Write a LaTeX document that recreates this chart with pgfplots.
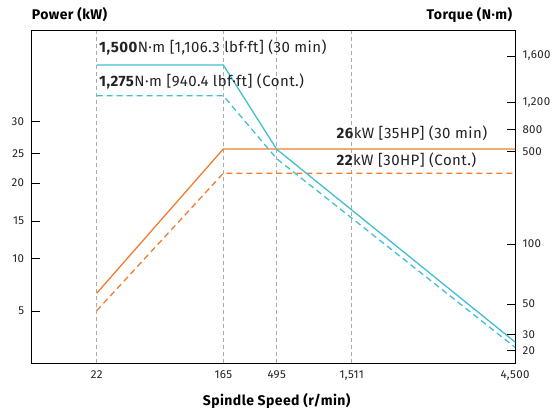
\documentclass[border=0pt]{standalone}
\usepackage{pgfplots}
\pgfplotsset{compat=1.18}
\usepackage{fontspec}
\setmainfont{Fira Sans}[LetterSpace=3]
\definecolor{cy}{RGB}{66,190,210}
\definecolor{orng}{RGB}{240,126,46}
\definecolor{txt}{RGB}{35,35,35}
\definecolor{gridc}{RGB}{170,170,170}
\begin{document}
\begin{tikzpicture}
\useasboundingbox (-31.7pt,-49pt) rectangle (522.3pt,363pt);
% x positions: 22 -> 96.7, 165 -> 223.3, 495 -> 276.7, 1511 -> 351.7, 4500 -> 515
% y positions (left, kW): 5 -> 52, 10 -> 104.3, 15 -> 142, 20 -> 180, 25 -> 209.7, 30 -> 241.7
% y positions (right, N m): 20 -> 12.3, 30 -> 28.3, 50 -> 59, 100 -> 119, 500 -> 211.3, 800 -> 233.7, 1200 -> 260.3, 1600 -> 307
\begin{axis}[
  scale only axis, width=483.3pt, height=333pt,
  xmin=31.7, xmax=515, ymin=0, ymax=333,
  axis line style={black, line width=0.8pt},
  xtick={96.7,223.3,276.7,351.7,515},
  xticklabels={22,165,495,{1,511},{4,500}},
  xtick pos=bottom,
  major x tick style={draw=none},
  xmajorgrids, grid style={gridc, dashed, dash pattern=on 4pt off 3pt, line width=0.8pt},
  ytick={52,104.3,142,180,209.7,241.7},
  yticklabels={5,10,15,20,25,30},
  ytick pos=left,
  major tick length=8pt,
  tick style={black, line width=0.8pt},
  tick label style={font=\fontsize{11.5}{14}\selectfont, text=txt},
  xticklabel style={yshift=-4pt},
  yticklabel style={xshift=-4pt},
  /pgf/number format/assume math mode=true,
  clip=false,
]
% Power 30 min
\addplot[orng, line width=1.3pt] coordinates {(96.7,69.7) (223.3,214) (515,214)};
% Power continuous
\addplot[orng, line width=1.3pt, dash pattern=on 6pt off 4pt] coordinates {(96.7,52.3) (223.3,189.7) (515,189.7)};
% Torque 30 min
\addplot[cy, line width=1.3pt] coordinates {(96.7,298) (223.3,298) (276.7,213.7) (515,21)};
% Torque continuous
\addplot[cy, line width=1.3pt, dash pattern=on 6pt off 4pt] coordinates {(96.7,267.3) (223.3,267.3) (276.7,204.3) (515,15.7)};

\node[anchor=west, inner sep=0pt, text=txt, font=\fontsize{15}{17}\selectfont] at (axis cs:99,316) {\textbf{1,500}N·m [1,106.3 lbf·ft] (30 min)};
\node[anchor=west, inner sep=0pt, text=txt, font=\fontsize{15}{17}\selectfont] at (axis cs:99,282) {\textbf{1,275}N·m [940.4 lbf·ft] (Cont.)};
\node[anchor=west, inner sep=0pt, text=txt, font=\fontsize{15}{17}\selectfont] at (axis cs:336.5,230) {\textbf{26}kW [35HP] (30 min)};
\node[anchor=west, inner sep=0pt, text=txt, font=\fontsize{15}{17}\selectfont] at (axis cs:336.5,203) {\textbf{22}kW [30HP] (Cont.)};

\node[anchor=west, inner sep=0pt, text=black, font=\bfseries\fontsize{14}{16}\selectfont] at (axis cs:31.7,348) {Power (kW)};
\node[anchor=east, inner sep=0pt, text=black, font=\bfseries\fontsize{14}{16}\selectfont] at (axis cs:512.3,348) {Torque (N·m)};
\node[anchor=center, inner sep=0pt, text=black, font=\bfseries\fontsize{14}{16}\selectfont] at (axis cs:276.7,-38) {Spindle Speed (r/min)};
\end{axis}
\begin{axis}[
  scale only axis, width=483.3pt, height=333pt,
  xmin=31.7, xmax=515, ymin=0, ymax=333,
  axis line style={draw=none},
  xtick=\empty,
  ytick={12.3,28.3,59,119,211.3,233.7,260.3,307},
  yticklabels={20,30,50,100,500,800,{1,200},{1,600}},
  ytick pos=right,
  major tick length=8pt,
  tick style={black, line width=0.8pt},
  tick label style={font=\fontsize{11.5}{14}\selectfont, text=txt},
  yticklabel style={xshift=4pt},
  /pgf/number format/assume math mode=true,
]
\end{axis}
\end{tikzpicture}
\end{document}
